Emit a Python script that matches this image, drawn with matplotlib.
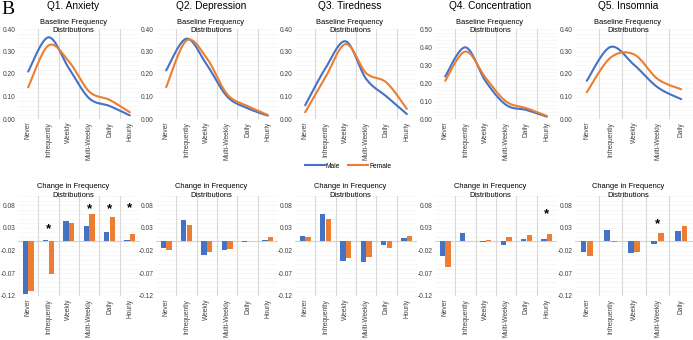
import matplotlib
matplotlib.use("Agg")
import matplotlib.pyplot as plt
import numpy as np
from matplotlib.lines import Line2D

plt.rcParams['font.family'] = ['Liberation Sans', 'DejaVu Sans']

titles = ["Q1. Anxiety", "Q2. Depression", "Q3. Tiredness", "Q4. Concentration", "Q5. Insomnia"]
cats6 = ["Never", "Infrequently", "Weekly", "Multi-Weekly", "Daily", "Hourly"]
cats5 = ["Never", "Infrequently", "Weekly", "Multi-Weekly", "Daily"]

# baseline frequency distributions (top row)
base_male_q1 = [0.211, 0.363, 0.226, 0.092, 0.058, 0.016]
base_female_q1 = [0.141, 0.327, 0.256, 0.122, 0.085, 0.030]
base_male_q2 = [0.216, 0.357, 0.241, 0.100, 0.048, 0.015]
base_female_q2 = [0.141, 0.349, 0.270, 0.110, 0.058, 0.018]
base_male_q3 = [0.061, 0.226, 0.345, 0.178, 0.100, 0.022]
base_female_q3 = [0.030, 0.186, 0.333, 0.204, 0.162, 0.045]
base_male_q4 = [0.236, 0.398, 0.208, 0.078, 0.050, 0.013]
base_female_q4 = [0.212, 0.375, 0.227, 0.097, 0.060, 0.017]
base_male_q5 = [0.170, 0.320, 0.241, 0.141, 0.088]
base_female_q5 = [0.119, 0.272, 0.287, 0.178, 0.132]

# change in frequency distributions (bottom row)
chg_male_q1 = [-0.115, 0.003, 0.046, 0.034, 0.021, 0.003]
chg_female_q1 = [-0.109, -0.072, 0.040, 0.060, 0.054, 0.017]
chg_male_q2 = [-0.015, 0.048, -0.030, -0.019, -0.002, 0.004]
chg_female_q2 = [-0.019, 0.036, -0.024, -0.017, 0.001, 0.009]
chg_male_q3 = [0.011, 0.060, -0.043, -0.046, -0.008, 0.007]
chg_female_q3 = [0.009, 0.049, -0.037, -0.035, -0.014, 0.012]
chg_male_q4 = [-0.033, 0.019, -0.002, -0.008, 0.006, 0.005]
chg_female_q4 = [-0.056, 0.000, 0.004, 0.009, 0.014, 0.016]
chg_male_q5 = [-0.023, 0.025, -0.026, -0.005, 0.022]
chg_female_q5 = [-0.032, -0.002, -0.024, 0.018, 0.034]

# significance markers: category and height
star_cats = [["Infrequently", "Multi-Weekly", "Daily", "Hourly"], [], [], ["Hourly"], ["Multi-Weekly"]]
star_vals = [[0.028, 0.071, 0.071, 0.074], [], [], [0.061], [0.037]]

base_ymax = [0.40, 0.40, 0.40, 0.50, 0.40]

BLUE = "#4472C4"
ORANGE = "#ED7D31"
W, H = 693, 340


def smooth(x, y, n=30):
    """Excel-style smoothed line through the points (cubic Bezier segments)."""
    p = np.column_stack([x, y]).astype(float)
    pts = np.vstack([p[0], p, p[-1]])
    out = []
    t = np.linspace(0, 1, n)[:, None]
    for i in range(1, len(pts) - 2):
        p0, p1, p2, p3 = pts[i - 1], pts[i], pts[i + 1], pts[i + 2]
        c1 = p1 + (p2 - p0) / 6
        c2 = p2 - (p3 - p1) / 6
        seg = (1 - t) ** 3 * p1 + 3 * (1 - t) ** 2 * t * c1 + 3 * (1 - t) * t ** 2 * c2 + t ** 3 * p2
        out.append(seg)
    s = np.vstack(out)
    return s[:, 0], s[:, 1]


def style_axes(ax, cats, ymin, ymax, yticks, minor_step):
    n = len(cats)
    ax.set_xlim(-0.5, n - 0.5)
    ax.set_ylim(ymin, ymax)
    ax.set_xticks(range(n))
    ax.set_xticklabels(cats, rotation=90, fontsize=4.8, color="#404040")
    ax.set_yticks(yticks)
    ax.set_yticklabels([f"{v:.2f}" for v in yticks], fontsize=4.8, color="#404040")
    for yv in np.arange(ymin, ymax + 1e-9, minor_step):
        ax.axhline(yv, color="#f1f1f1", lw=0.4, zorder=0)
    for xv in np.arange(0.5, n - 0.5, 1):
        ax.axvline(xv, color="#d9d9d9", lw=0.8, zorder=0)
    ax.tick_params(length=0, pad=2)
    for s in ax.spines.values():
        s.set_visible(False)


fig = plt.figure(figsize=(W / 100, H / 100), dpi=100)

lefts = [18, 156, 295, 435, 575]
widths = [122, 122, 122, 122, 118]

base_male = [base_male_q1, base_male_q2, base_male_q3, base_male_q4, base_male_q5]
base_female = [base_female_q1, base_female_q2, base_female_q3, base_female_q4, base_female_q5]
chg_male = [chg_male_q1, chg_male_q2, chg_male_q3, chg_male_q4, chg_male_q5]
chg_female = [chg_female_q1, chg_female_q2, chg_female_q3, chg_female_q4, chg_female_q5]

for i in range(5):
    cats = cats6 if len(base_male[i]) == 6 else cats5
    x = np.arange(len(cats))
    cx = (lefts[i] + widths[i] / 2 - 6) / W

    # top row: baseline distributions
    ax = fig.add_axes([lefts[i] / W, 1 - 119 / H, widths[i] / W, 90 / H])
    ymax = base_ymax[i]
    style_axes(ax, cats, 0, ymax, np.arange(0, ymax + 1e-9, 0.1), 0.02)
    ax.axhline(0, color="#bfbfbf", lw=0.8, zorder=1)
    xs, ys = smooth(x, base_male[i])
    ax.plot(xs, ys, color=BLUE, lw=1.5, zorder=3, solid_capstyle="round")
    xs, ys = smooth(x, base_female[i])
    ax.plot(xs, ys, color=ORANGE, lw=1.5, zorder=3, solid_capstyle="round")
    fig.text(cx, 1 - 6 / H, titles[i], ha="center", va="center", fontsize=7.3)
    fig.text(cx, 1 - 26.5 / H, "Baseline Frequency\nDistributions", ha="center", va="center",
             fontsize=5.4, linespacing=1.35)

    # bottom row: change in distributions
    ax = fig.add_axes([lefts[i] / W, 1 - 296 / H, widths[i] / W, 100 / H])
    style_axes(ax, cats, -0.12, 0.10, [-0.12, -0.07, -0.02, 0.03, 0.08], 0.01)
    ax.axhline(0, color="#d0d0d0", lw=0.8, zorder=1)
    ax.bar(x - 0.14, chg_male[i], width=0.25, color=BLUE, zorder=3)
    ax.bar(x + 0.14, chg_female[i], width=0.25, color=ORANGE, zorder=3)
    for c, v in zip(star_cats[i], star_vals[i]):
        ax.text(cats.index(c), v, "*", ha="center", va="center", fontsize=9.5,
                fontweight="bold", zorder=4)
    fig.text(cx, 1 - 191 / H, "Change in Frequency\nDistributions", ha="center", va="center",
             fontsize=5.4, linespacing=1.35)

handles = [Line2D([], [], color=BLUE, lw=1.5), Line2D([], [], color=ORANGE, lw=1.5)]
fig.legend(handles, ["Male", "Female"], loc="center", bbox_to_anchor=(348 / W, 1 - 166 / H),
           ncol=2, frameon=False, fontsize=4.8, handlelength=3, columnspacing=1.2,
           handletextpad=0.2)

fig.text(1 / W, 1 - 9 / H, "B", family="Liberation Serif", fontsize=14, ha="left", va="center")

fig.savefig("out.png", dpi=100)
plt.close(fig)
